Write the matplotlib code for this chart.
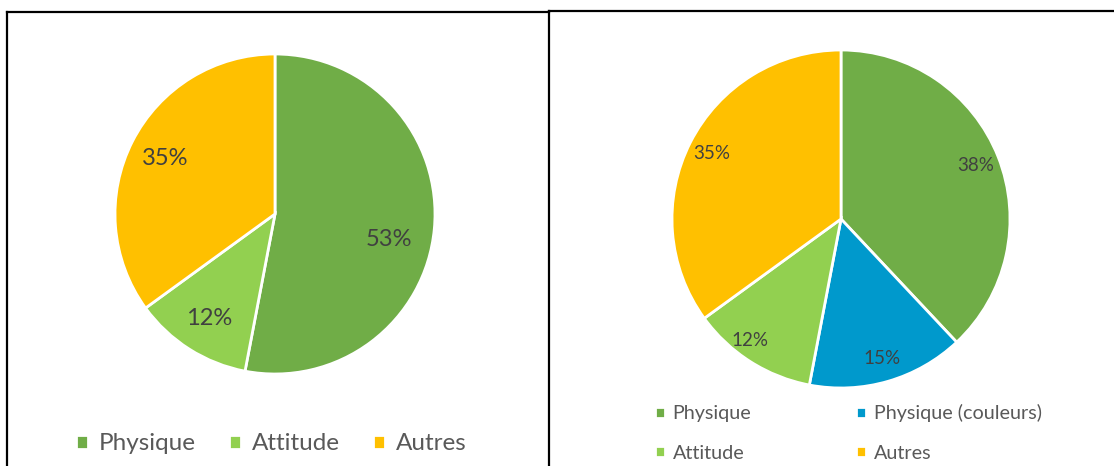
import matplotlib.pyplot as plt
from matplotlib.lines import Line2D

plt.rcParams['font.family'] = ['Lato', 'DejaVu Sans']

# left chart
left_labels = ['Physique', 'Attitude', 'Autres']
left_values = [53, 12, 35]
left_colors = ['#70AD47', '#92D050', '#FFC000']

# right chart
right_labels = ['Physique', 'Physique (couleurs)', 'Attitude', 'Autres']
right_values = [38, 15, 12, 35]
right_colors = ['#70AD47', '#0099CC', '#92D050', '#FFC000']

W, H = 1114, 466
fig = plt.figure(figsize=(W / 100, H / 100), dpi=100)

def px(x0, y0, x1, y1):
    # pixel box (top-left origin) -> figure fraction rect
    return [x0 / W, 1 - y1 / H, (x1 - x0) / W, (y1 - y0) / H]

# frame lines
def line(x0, y0, x1, y1):
    fig.add_artist(Line2D([x0 / W, x1 / W], [1 - y0 / H, 1 - y1 / H],
                          color='black', lw=1.6, transform=fig.transFigure))

line(7, 12, 549, 12)
line(7, 12, 7, 466)
line(549, 11, 1114, 11)
line(549, 11, 549, 466)

# left pie
ax1 = fig.add_axes(px(115, 54, 435, 374))
w1, _, at1 = ax1.pie(left_values, colors=left_colors, startangle=90, counterclock=False,
                     autopct='%1.0f%%', pctdistance=0.77,
                     wedgeprops=dict(edgecolor='white', linewidth=2),
                     textprops=dict(color='#404040', fontsize=17))
at1[0].set_position((0.71, -0.16))  # excel best-fit spot
ax1.set_xlim(-1, 1)
ax1.set_ylim(-1, 1)
ax1.set_aspect('equal')

fig.legend(w1, left_labels, loc='center left', bbox_to_anchor=(76 / W, 1 - 444 / H),
           ncol=3, frameon=False, fontsize=17.5, labelcolor='#595959',
           borderpad=0, borderaxespad=0,
           handlelength=0.5, handleheight=0.5, handletextpad=0.45, columnspacing=1.35)

# right pie
ax2 = fig.add_axes(px(672, 50, 1010, 388))
w2, _, at2 = ax2.pie(right_values, colors=right_colors, startangle=90, counterclock=False,
                     autopct='%1.0f%%', pctdistance=0.86,
                     wedgeprops=dict(edgecolor='white', linewidth=2),
                     textprops=dict(color='#404040', fontsize=13.5))
at2[2].set_position((-0.54, -0.72))
ax2.set_xlim(-1, 1)
ax2.set_ylim(-1, 1)
ax2.set_aspect('equal')

order = [0, 2, 1, 3]
fig.legend([w2[i] for i in order], [right_labels[i] for i in order], loc='center left',
           bbox_to_anchor=(655 / W, 1 - 433 / H), ncol=2, frameon=False, fontsize=14.2,
           labelcolor='#595959', borderpad=0, borderaxespad=0,
           handlelength=0.5, handleheight=0.5, handletextpad=0.4,
           columnspacing=5.3, labelspacing=1.15)

fig.savefig('out.png', dpi=100)
